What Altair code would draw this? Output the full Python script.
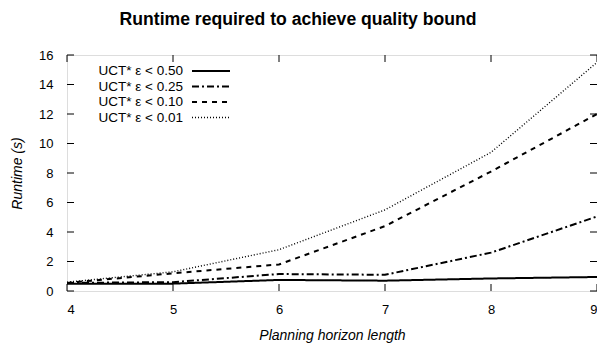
import altair as alt
import pandas as pd

horizon = [4, 5, 6, 7, 8, 9]
series_names = ["UCT* ε < 0.50", "UCT* ε < 0.25", "UCT* ε < 0.10", "UCT* ε < 0.01"]
eps050 = [0.5, 0.5, 0.75, 0.7, 0.85, 0.95]
eps025 = [0.55, 0.6, 1.15, 1.1, 2.6, 5.05]
eps010 = [0.55, 1.2, 1.8, 4.4, 8.1, 12.0]
eps001 = [0.6, 1.3, 2.8, 5.5, 9.4, 15.5]
x_ticks = [4, 5, 6, 7, 8, 9]
y_ticks = [0, 2, 4, 6, 8, 10, 12, 14, 16]

all_values = [eps050, eps025, eps010, eps001]
dashes = [[1, 0], [7, 3, 2, 3], [5, 5], [1, 2]]
widths = [2, 2, 2, 1.4]

W, H = 530, 236
FONT = "Liberation Sans"

xs = alt.Scale(domain=[4, 9], nice=False)
ys = alt.Scale(domain=[0, 16], nice=False)
x_axis = alt.Axis(values=x_ticks, format="d", ticks=False, domain=False, grid=False,
                  labelFont=FONT, labelFontSize=13, labelPadding=12, labelColor="black",
                  labelOverlap=False,
                  titleFont=FONT, titleFontSize=14, titleFontStyle="italic",
                  titleFontWeight="normal", titlePadding=12, titleColor="black")
y_axis = alt.Axis(values=y_ticks, format="d", ticks=False, domain=False, grid=False,
                  labelFont=FONT, labelFontSize=13, labelPadding=14, labelColor="black",
                  labelOverlap=False,
                  titleFont=FONT, titleFontSize=14, titleFontStyle="italic",
                  titleFontWeight="normal", titlePadding=14, titleColor="black")
XT = "Planning horizon length"
YT = "Runtime (s)"

layers = []
for i, (name, vals) in enumerate(zip(series_names, all_values)):
    df = pd.DataFrame({"h": horizon, "t": vals, "s": name})
    line = alt.Chart(df).mark_line(
        color="black", strokeDash=dashes[i], strokeWidth=widths[i], clip=True
    ).encode(
        x=alt.X("h:Q", scale=xs, title=XT, axis=x_axis),
        y=alt.Y("t:Q", scale=ys, title=YT, axis=y_axis),
    )
    layers.append(line)

# inward ticks on all four sides
xt = pd.DataFrame({"h": x_ticks})
yt = pd.DataFrame({"t": y_ticks})
tick_len = 7
layers.append(alt.Chart(xt).mark_rule(color="black", strokeWidth=1).encode(
    x=alt.X("h:Q", scale=xs, title=XT, axis=x_axis), y=alt.value(H), y2=alt.value(H - tick_len)))
layers.append(alt.Chart(xt).mark_rule(color="black", strokeWidth=1).encode(
    x=alt.X("h:Q", scale=xs, title=XT, axis=x_axis), y=alt.value(0), y2=alt.value(tick_len)))
layers.append(alt.Chart(yt).mark_rule(color="black", strokeWidth=1).encode(
    y=alt.Y("t:Q", scale=ys, title=YT, axis=y_axis), x=alt.value(0), x2=alt.value(tick_len)))
layers.append(alt.Chart(yt).mark_rule(color="black", strokeWidth=1).encode(
    y=alt.Y("t:Q", scale=ys, title=YT, axis=y_axis), x=alt.value(W), x2=alt.value(W - tick_len)))

# legend (gnuplot style: label then line sample)
for i, name in enumerate(series_names):
    ly = 16 + i * 15.5
    leg_df = pd.DataFrame({"s": [name]})
    layers.append(alt.Chart(leg_df).mark_text(
        align="right", baseline="middle", font=FONT, fontSize=13.5, color="black"
    ).encode(text="s:N", x=alt.value(116), y=alt.value(ly)))
    layers.append(alt.Chart(leg_df).mark_rule(
        color="black", strokeDash=dashes[i], strokeWidth=widths[i]
    ).encode(x=alt.value(125), x2=alt.value(163), y=alt.value(ly)))

chart = alt.layer(*layers).properties(
    width=W, height=H,
    title=alt.Title("Runtime required to achieve quality bound", font=FONT, fontSize=17.6,
                    fontWeight="bold", color="black", anchor="middle", offset=20, dx=-34),
    autosize=alt.AutoSizeParams(type="none"),
    padding={"left": 59, "top": 47, "right": 0, "bottom": 57},
).configure_view(stroke="black", strokeWidth=1.5).configure(background="white")

chart.save("out.html", embed_options={"renderer": "svg", "actions": False})
